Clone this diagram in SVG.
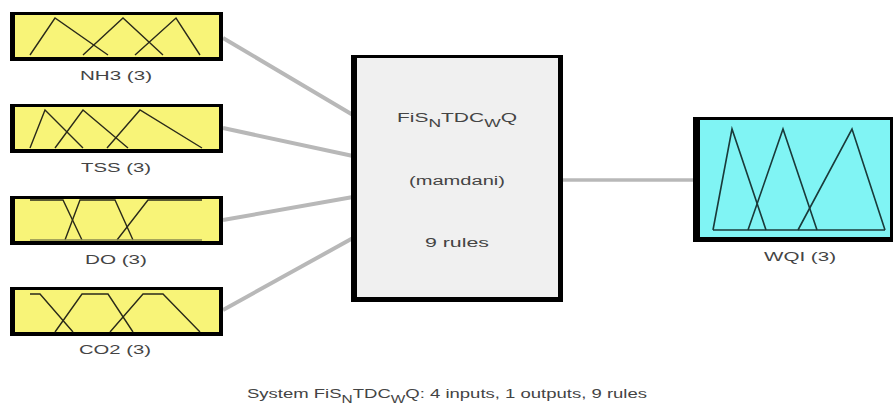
<svg xmlns="http://www.w3.org/2000/svg" width="894" height="405" viewBox="0 0 894 405">
<style>
.lbl{font-family:"Liberation Sans",Arial,sans-serif;font-size:12px;fill:#444;text-anchor:middle}
.mf{fill:none;stroke:#2a2a1a;stroke-width:1.4;stroke-linejoin:miter}
.mfo{fill:none;stroke:#1a3a3a;stroke-width:1.6}
.con{stroke:#b8b8b8;stroke-width:4;fill:none;stroke-linecap:butt}
.frame{fill:#000}
.yel{fill:#f8f478}
.cyan{fill:#80f4f4}
.grey{fill:#f0f0f0}
</style>
<rect width="894" height="405" fill="#fff"/>
<g id="connectors">
<line class="con" x1="223" y1="38" x2="353" y2="115"/>
<line class="con" x1="223" y1="128" x2="353" y2="156"/>
<line class="con" x1="223" y1="220" x2="353" y2="197"/>
<line class="con" x1="223" y1="310" x2="353" y2="238"/>
<line class="con" x1="561" y1="180" x2="695" y2="180" style="stroke-width:3.5"/>
</g>
<g id="nh3">
<rect class="frame" x="10" y="12" width="213" height="49"/>
<rect class="yel" x="15" y="15" width="204" height="42"/>
<polyline class="mf" points="30,55 55,18 108,55"/>
<polyline class="mf" points="83,55 123,18 163,55"/>
<polyline class="mf" points="135,55 176,18 200,55"/>
<text class="lbl" x="116" y="80" textLength="72" lengthAdjust="spacingAndGlyphs">NH3 (3)</text>
</g>
<g id="tss">
<rect class="frame" x="10" y="104" width="213" height="49"/>
<rect class="yel" x="15" y="107" width="204" height="42"/>
<polyline class="mf" points="30,148 45,110 83,148"/>
<polyline class="mf" points="55,148 83,110 128,148"/>
<polyline class="mf" points="107,148 140,110 202,148"/>
<text class="lbl" x="116" y="172" textLength="70" lengthAdjust="spacingAndGlyphs">TSS (3)</text>
</g>
<g id="do">
<rect class="frame" x="10" y="196" width="213" height="49"/>
<rect class="yel" x="15" y="199" width="204" height="42"/>
<polyline class="mf" points="30,200 63,200 82,240"/>
<polyline class="mf" points="65,240 80,200 115,200 133,240"/>
<polyline class="mf" points="117,240 148,200 202,200"/>
<line class="mf" x1="30" y1="240" x2="202" y2="240" style="stroke:#8a8a50"/>
<text class="lbl" x="116" y="264" textLength="62" lengthAdjust="spacingAndGlyphs">DO (3)</text>
</g>
<g id="co2">
<rect class="frame" x="10" y="287" width="213" height="49"/>
<rect class="yel" x="15" y="290" width="204" height="42"/>
<polyline class="mf" points="30,294 40,294 73,332"/>
<polyline class="mf" points="55,332 82,294 108,294 133,332"/>
<polyline class="mf" points="110,332 143,294 163,294 200,332"/>
<text class="lbl" x="115" y="354" textLength="72" lengthAdjust="spacingAndGlyphs">CO2 (3)</text>
</g>
<g id="fis">
<rect class="frame" x="351" y="55" width="212" height="247"/>
<rect class="grey" x="357" y="58" width="201" height="239"/>
<text class="lbl" x="457" y="122" textLength="120" lengthAdjust="spacingAndGlyphs">FiS<tspan dy="5" font-size="10">N</tspan><tspan dy="-5">TDC</tspan><tspan dy="5" font-size="10">W</tspan><tspan dy="-5">Q</tspan></text>
<text class="lbl" x="457" y="185" textLength="96" lengthAdjust="spacingAndGlyphs">(mamdani)</text>
<text class="lbl" x="457" y="247" textLength="64" lengthAdjust="spacingAndGlyphs">9 rules</text>
</g>
<g id="wqi">
<rect class="frame" x="693" y="117" width="200" height="125"/>
<rect class="cyan" x="700" y="120" width="190" height="117"/>
<polyline class="mfo" points="713,230 732,129 766,230"/>
<polyline class="mfo" points="748,230 783,129 817,230"/>
<polyline class="mfo" points="798,230 852,129 885,230"/>
<line class="mfo" x1="713" y1="230" x2="885" y2="230"/>
<text class="lbl" x="800" y="261" textLength="72" lengthAdjust="spacingAndGlyphs">WQI (3)</text>
</g>
<g id="caption">
<text class="lbl" x="447" y="398" textLength="400" lengthAdjust="spacingAndGlyphs">System FiS<tspan dy="5" font-size="10">N</tspan><tspan dy="-5">TDC</tspan><tspan dy="5" font-size="10">W</tspan><tspan dy="-5">Q: 4 inputs, 1 outputs, 9 rules</tspan></text>
</g>
</svg>
